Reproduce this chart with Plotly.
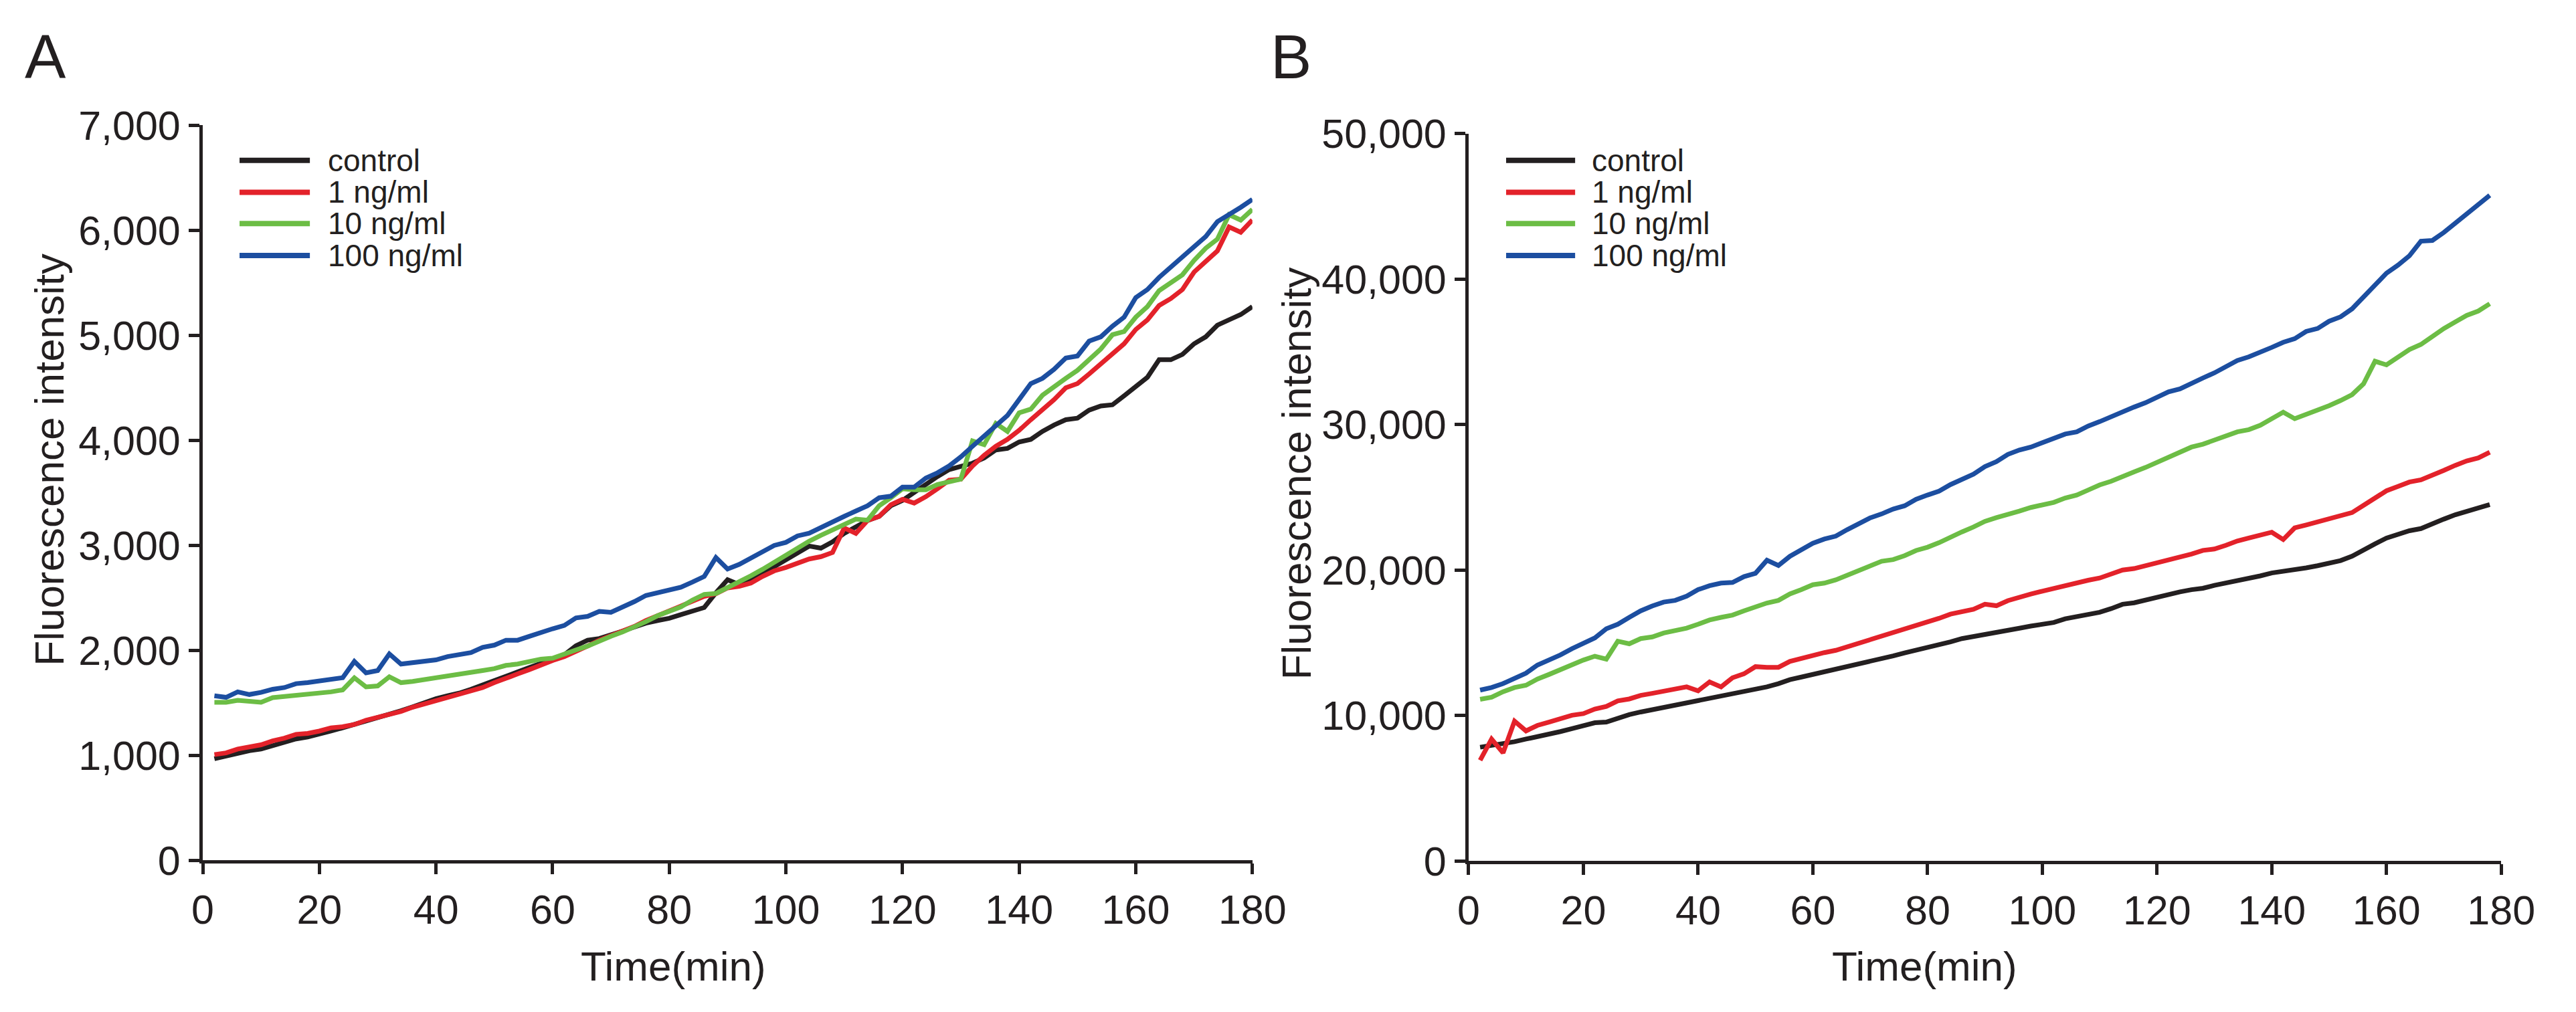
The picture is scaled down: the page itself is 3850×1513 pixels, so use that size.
import plotly.graph_objects as go

# ---------------- data ----------------
series_names = ["control", "1 ng/ml", "10 ng/ml", "100 ng/ml"]
series_colors = ["#231f20", "#e3222a", "#6cbd45", "#1c4ea0"]

time_a = list(range(2, 182, 2))   # 2..180 min
time_b = list(range(2, 180, 2))   # 2..178 min

a_control = [968, 993, 1024, 1045, 1061, 1095, 1123, 1157, 1176, 1201, 1232, 1263, 1294, 1332, 1357,
             1388, 1425, 1462, 1506, 1540, 1568, 1593, 1630, 1674, 1714, 1755, 1795, 1836, 1879, 1920,
             1957, 2044, 2097, 2113, 2144, 2184, 2222, 2259, 2284, 2306, 2340, 2371, 2408, 2548, 2673,
             2626, 2688, 2741, 2797, 2860, 2932, 2993, 2973, 3033, 3114, 3175, 3236, 3276, 3377, 3428,
             3503, 3589, 3655, 3721, 3756, 3782, 3832, 3908, 3923, 3984, 4009, 4085, 4146, 4196, 4211,
             4287, 4327, 4338, 4424, 4515, 4600, 4767, 4767, 4818, 4919, 4985, 5096, 5147, 5197, 5273]
a_1ng = [1008, 1024, 1061, 1080, 1101, 1139, 1164, 1201, 1210, 1232, 1263, 1273, 1294, 1335, 1360,
         1388, 1419, 1459, 1490, 1518, 1550, 1574, 1615, 1646, 1693, 1730, 1776, 1817, 1864, 1904,
         1941, 1988, 2041, 2097, 2141, 2184, 2228, 2284, 2330, 2377, 2414, 2464, 2514, 2539, 2595,
         2610, 2641, 2704, 2757, 2790, 2830, 2870, 2892, 2932, 3165, 3114, 3236, 3276, 3387, 3438,
         3402, 3463, 3539, 3620, 3630, 3756, 3857, 3943, 4009, 4095, 4196, 4287, 4388, 4500, 4540,
         4631, 4732, 4818, 4919, 5055, 5147, 5283, 5349, 5435, 5602, 5703, 5804, 6031, 5981, 6097]
a_10ng = [1506, 1506, 1525, 1518, 1506, 1550, 1559, 1571, 1580, 1593, 1605, 1624, 1739, 1652, 1661,
          1749, 1693, 1705, 1724, 1742, 1755, 1770, 1792, 1808, 1826, 1857, 1870, 1898, 1917, 1926,
          1960, 2004, 2041, 2091, 2134, 2175, 2222, 2274, 2330, 2371, 2414, 2480, 2533, 2542, 2595,
          2651, 2710, 2772, 2838, 2910, 2975, 3040, 3095, 3150, 3200, 3250, 3240, 3377, 3453, 3539,
          3529, 3529, 3579, 3605, 3630, 3994, 3958, 4161, 4085, 4262, 4297, 4429, 4515, 4590, 4666,
          4767, 4869, 5005, 5035, 5172, 5273, 5425, 5501, 5576, 5713, 5829, 5915, 6148, 6097, 6198]
a_100ng = [1568, 1553, 1605, 1580, 1600, 1630, 1646, 1683, 1693, 1708, 1724, 1740, 1895, 1786, 1808,
           1966, 1870, 1880, 1892, 1910, 1941, 1957, 1979, 2029, 2050, 2097, 2097, 2134, 2175, 2206,
           2237, 2309, 2324, 2371, 2362, 2408, 2464, 2523, 2548, 2579, 2601, 2651, 2704, 2884, 2775,
           2819, 2875, 2931, 2999, 3028, 3090, 3116, 3172, 3224, 3276, 3327, 3377, 3453, 3468, 3554,
           3554, 3640, 3691, 3756, 3842, 3943, 4044, 4151, 4237, 4388, 4540, 4590, 4676, 4783, 4803,
           4944, 4985, 5086, 5172, 5359, 5435, 5551, 5652, 5743, 5844, 5940, 6082, 6148, 6218, 6294]

b_control = [7825, 7937, 8049, 8206, 8386, 8543, 8722, 8901, 9103, 9327, 9507, 9552, 9843, 10067, 10247,
             10404, 10561, 10717, 10852, 11009, 11143, 11300, 11480, 11637, 11749, 11973, 12197, 12466, 12646, 12825,
             12982, 13139, 13318, 13543, 13722, 13924, 14103, 14305, 14484, 14709, 14888, 15067, 15291, 15448, 15600,
             15750, 15900, 16000, 16150, 16250, 16400, 16650, 16800, 16950, 17100, 17350, 17650, 17750, 17950, 18100,
             18300, 18500, 18650, 18750, 18950, 19100, 19300, 19400, 19600, 19800, 19900, 20050, 20150, 20300, 20500,
             20650, 20950, 21400, 21800, 22200, 22450, 22700, 22850, 23200, 23500, 23800, 24050, 24250, 24500]
b_1ng = [6928, 8386, 7444, 9619, 8946, 9327, 9552, 9798, 10022, 10135, 10448, 10628, 11009, 11143, 11390,
         11525, 11659, 11816, 11973, 11704, 12309, 11973, 12601, 12870, 13363, 13318, 13318, 13722, 13924, 14170,
         14327, 14484, 14731, 14955, 15179, 15404, 15673, 15897, 16166, 16457, 16682, 16973, 17100, 17300, 17650,
         17550, 17900, 18150, 18350, 18550, 18750, 18900, 19100, 19300, 19450, 19750, 20000, 20100, 20300, 20500,
         20650, 20900, 21100, 21350, 21450, 21700, 22000, 22200, 22400, 22600, 22100, 22900, 23100, 23300, 23550,
         23750, 23950, 24450, 24950, 25450, 25750, 26050, 26200, 26500, 26850, 27200, 27500, 27700, 28100]
b_10ng = [11121, 11256, 11637, 11928, 12085, 12511, 12825, 13161, 13543, 13812, 14081, 13879, 15112, 14933, 15291,
          15404, 15673, 15830, 16009, 16278, 16570, 16749, 16906, 17197, 17466, 17735, 17915, 18363, 18655, 18991,
          19103, 19327, 19641, 19978, 20269, 20605, 20717, 20987, 21345, 21570, 21883, 22287, 22623, 22960, 23350,
          23600, 23800, 24050, 24300, 24500, 24650, 24950, 25150, 25500, 25850, 26100, 26450, 26750, 27050, 27400,
          27750, 28100, 28450, 28650, 28950, 29250, 29500, 29650, 29950, 30400, 30850, 30400, 30700, 30950, 31300,
          31650, 32050, 32800, 34350, 34100, 34600, 35150, 35500, 36050, 36600, 37050, 37500, 37800, 38300]
b_100ng = [11749, 11928, 12197, 12534, 12915, 13475, 13812, 14170, 14596, 14933, 15336, 15964, 16278, 16749, 17197,
           17534, 17803, 17915, 18206, 18655, 18924, 19103, 19148, 19552, 19776, 20673, 20314, 20942, 21390, 21839,
           22130, 22332, 22780, 23184, 23587, 23857, 24193, 24417, 24865, 25157, 25426, 25874, 26211, 26592, 27108,
           27450, 27950, 28250, 28450, 28750, 29100, 29350, 29500, 29900, 30200, 30550, 30900, 31200, 31500, 31850,
           32250, 32450, 32850, 33200, 33550, 33950, 34400, 34650, 34950, 35300, 35650, 35900, 36400, 36600, 37100,
           37400, 37950, 38750, 39500, 40400, 40950, 41600, 42600, 42650, 43200, 43850, 44500, 45050, 45750]

x_ticks = [0, 20, 40, 60, 80, 100, 120, 140, 160, 180]
y_ticks_a = [0, 1000, 2000, 3000, 4000, 5000, 6000, 7000]
y_ticks_b = [0, 10000, 20000, 30000, 40000, 50000]

panel_labels = ["A", "B"]
x_title = "Time(min)"
y_title = "Fluorescence intensity"

# ---------------- figure ----------------
W, H = 3850, 1513
FONT = "Liberation Sans, Arial, sans-serif"
INK = "#231f20"

fig = go.Figure()

panel_a = [a_control, a_1ng, a_10ng, a_100ng]
panel_b = [b_control, b_1ng, b_10ng, b_100ng]

for name, color, ys in zip(series_names, series_colors, panel_a):
    fig.add_trace(go.Scatter(x=time_a, y=ys, mode="lines", name=name,
                             line=dict(color=color, width=7), xaxis="x", yaxis="y",
                             showlegend=False))
for name, color, ys in zip(series_names, series_colors, panel_b):
    fig.add_trace(go.Scatter(x=time_b, y=ys, mode="lines", name=name,
                             line=dict(color=color, width=7), xaxis="x2", yaxis="y2",
                             showlegend=False))

axis_common = dict(showline=True, linecolor=INK, linewidth=5, ticks="outside",
                   ticklen=16, tickwidth=5, tickcolor=INK, showgrid=False, zeroline=False,
                   tickfont=dict(family=FONT, size=61, color=INK))

fig.update_layout(
    width=W, height=H,
    margin=dict(l=0, r=0, t=0, b=0),
    paper_bgcolor="white", plot_bgcolor="white",
    font=dict(family=FONT, color=INK),
    xaxis=dict(domain=[283 / W, 1880 / W], range=[0, 180], tickvals=x_ticks,
               anchor="y", **axis_common),
    yaxis=dict(domain=[1 - 1303 / H, 1 - 152 / H], range=[0, 7000], tickvals=y_ticks_a,
               tickformat=",d", anchor="x", **axis_common),
    xaxis2=dict(domain=[2209 / W, 3780 / W], range=[0, 180], tickvals=x_ticks,
                anchor="y2", **axis_common),
    yaxis2=dict(domain=[1 - 1304 / H, 1 - 165 / H], range=[0, 50000], tickvals=y_ticks_b,
                tickformat=",d", anchor="x2", **axis_common),
)

annotations = []
# panel labels
for lab, xp in zip(panel_labels, [10 / W, 1906 / W]):
    annotations.append(dict(text=lab, x=xp, y=1 - 45 / H, xref="paper", yref="paper",
                            xanchor="left", yanchor="middle", showarrow=False,
                            font=dict(family=FONT, size=92, color=INK)))
# axis titles
for xc in [999 / W, 2903 / W]:
    annotations.append(dict(text=x_title, x=xc, y=1 - 1469 / H, xref="paper", yref="paper",
                            xanchor="center", yanchor="middle", showarrow=False,
                            font=dict(family=FONT, size=62, color=INK)))
for xc, yc in [(49 / W, 1 - 676 / H), (1947 / W, 1 - 697 / H)]:
    annotations.append(dict(text=y_title, x=xc, y=yc, xref="paper", yref="paper",
                            xanchor="center", yanchor="middle", textangle=-90, showarrow=False,
                            font=dict(family=FONT, size=62, color=INK)))

# legends (one per panel)
shapes = []
legend_rows = [207, 257, 306, 356]
for (lx0, lx1, tx) in [(339, 446, 471), (2266, 2371, 2394)]:
    for name, color, ry in zip(series_names, series_colors, legend_rows):
        yp = 1 - ry / H
        shapes.append(dict(type="line", xref="paper", yref="paper",
                           x0=lx0 / W, x1=lx1 / W, y0=yp, y1=yp,
                           line=dict(color=color, width=8)))
        annotations.append(dict(text=name, x=tx / W, y=yp, xref="paper", yref="paper",
                                xanchor="left", yanchor="middle", showarrow=False,
                                font=dict(family=FONT, size=46, color=INK)))

fig.update_layout(annotations=annotations, shapes=shapes)

fig.write_html("out.html")
